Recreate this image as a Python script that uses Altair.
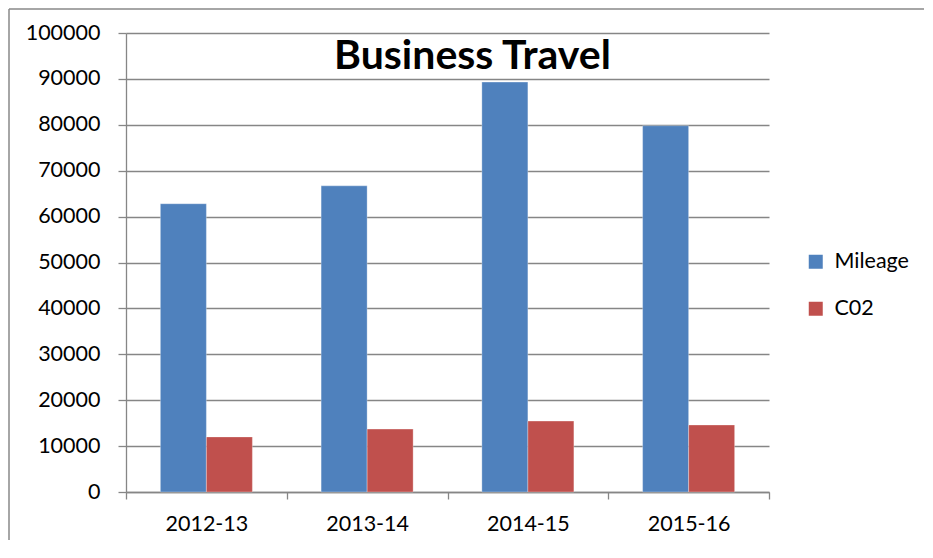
import altair as alt
import pandas as pd

years = ["2012-13", "2013-14", "2014-15", "2015-16"]
series = ["Mileage", "C02"]
mileage = [62800, 66700, 89300, 79800]
co2 = [12000, 13700, 15450, 14600]
colors = ["#4F81BD", "#C0504D"]

rows = []
for i, y in enumerate(years):
    rows.append({"year": y, "series": "Mileage", "value": mileage[i]})
    rows.append({"year": y, "series": "C02", "value": co2[i]})
df = pd.DataFrame(rows)

FONT = "Lato"
GRID = "#868686"

bars = alt.Chart(df).mark_bar(stroke="white", strokeWidth=0.6, strokeOpacity=0.5).encode(
    x=alt.X("year:N", sort=years, title=None,
            scale=alt.Scale(paddingInner=0, paddingOuter=0),
            axis=alt.Axis(labelAngle=0, labelFontSize=21.5, labelFont=FONT, labelColor="#000000",
                          domainColor=GRID, domainWidth=1.3, tickColor=GRID, tickWidth=1.3,
                          tickSize=7, tickBand="extent", labelPadding=14, grid=False)),
    xOffset=alt.XOffset("series:N", sort=series,
                        scale=alt.Scale(paddingInner=0, paddingOuter=0.747)),
    y=alt.Y("value:Q", title=None,
            scale=alt.Scale(domain=[0, 100000], nice=False),
            axis=alt.Axis(values=list(range(0, 100001, 10000)), labelFontSize=21.5, labelFont=FONT,
                          labelColor="#000000", domainColor=GRID, domainWidth=1.3,
                          tickColor=GRID, tickWidth=1.3,
                          tickSize=8, labelPadding=18, gridColor=GRID, gridWidth=1.3,
                          format="d")),
    color=alt.Color("series:N", sort=series,
                    scale=alt.Scale(domain=series, range=colors),
                    legend=alt.Legend(title=None, orient="none", legendX=679, legendY=218,
                                      symbolType="square", symbolSize=196, symbolStrokeWidth=0,
                                      labelFontSize=21.5, labelFont=FONT, labelColor="#000000",
                                      rowPadding=24, labelOffset=8, padding=0)),
)

frame = pd.DataFrame({"a": [0]})
top_line = alt.Chart(frame).mark_rule(color="#888888", strokeWidth=1.5).encode(
    x=alt.value(-117), x2=alt.value(810), y=alt.value(-24), y2=alt.value(-24)
)
left_line = alt.Chart(frame).mark_rule(color="#888888", strokeWidth=1.5).encode(
    x=alt.value(-117), x2=alt.value(-117), y=alt.value(-24), y2=alt.value(530)
)

chart = alt.layer(bars, top_line, left_line).properties(
    width=643, height=459,
    title=alt.Title("Business Travel", fontSize=41, font=FONT, fontWeight="bold",
                    color="#000000", anchor="middle", dx=25, offset=-70),
    autosize=alt.AutoSizeParams(type="none"),
    padding={"left": 118, "top": 25, "right": 155, "bottom": 48},
).configure_view(stroke=None)

chart.save("out.html", embed_options={"renderer": "svg", "actions": False})
